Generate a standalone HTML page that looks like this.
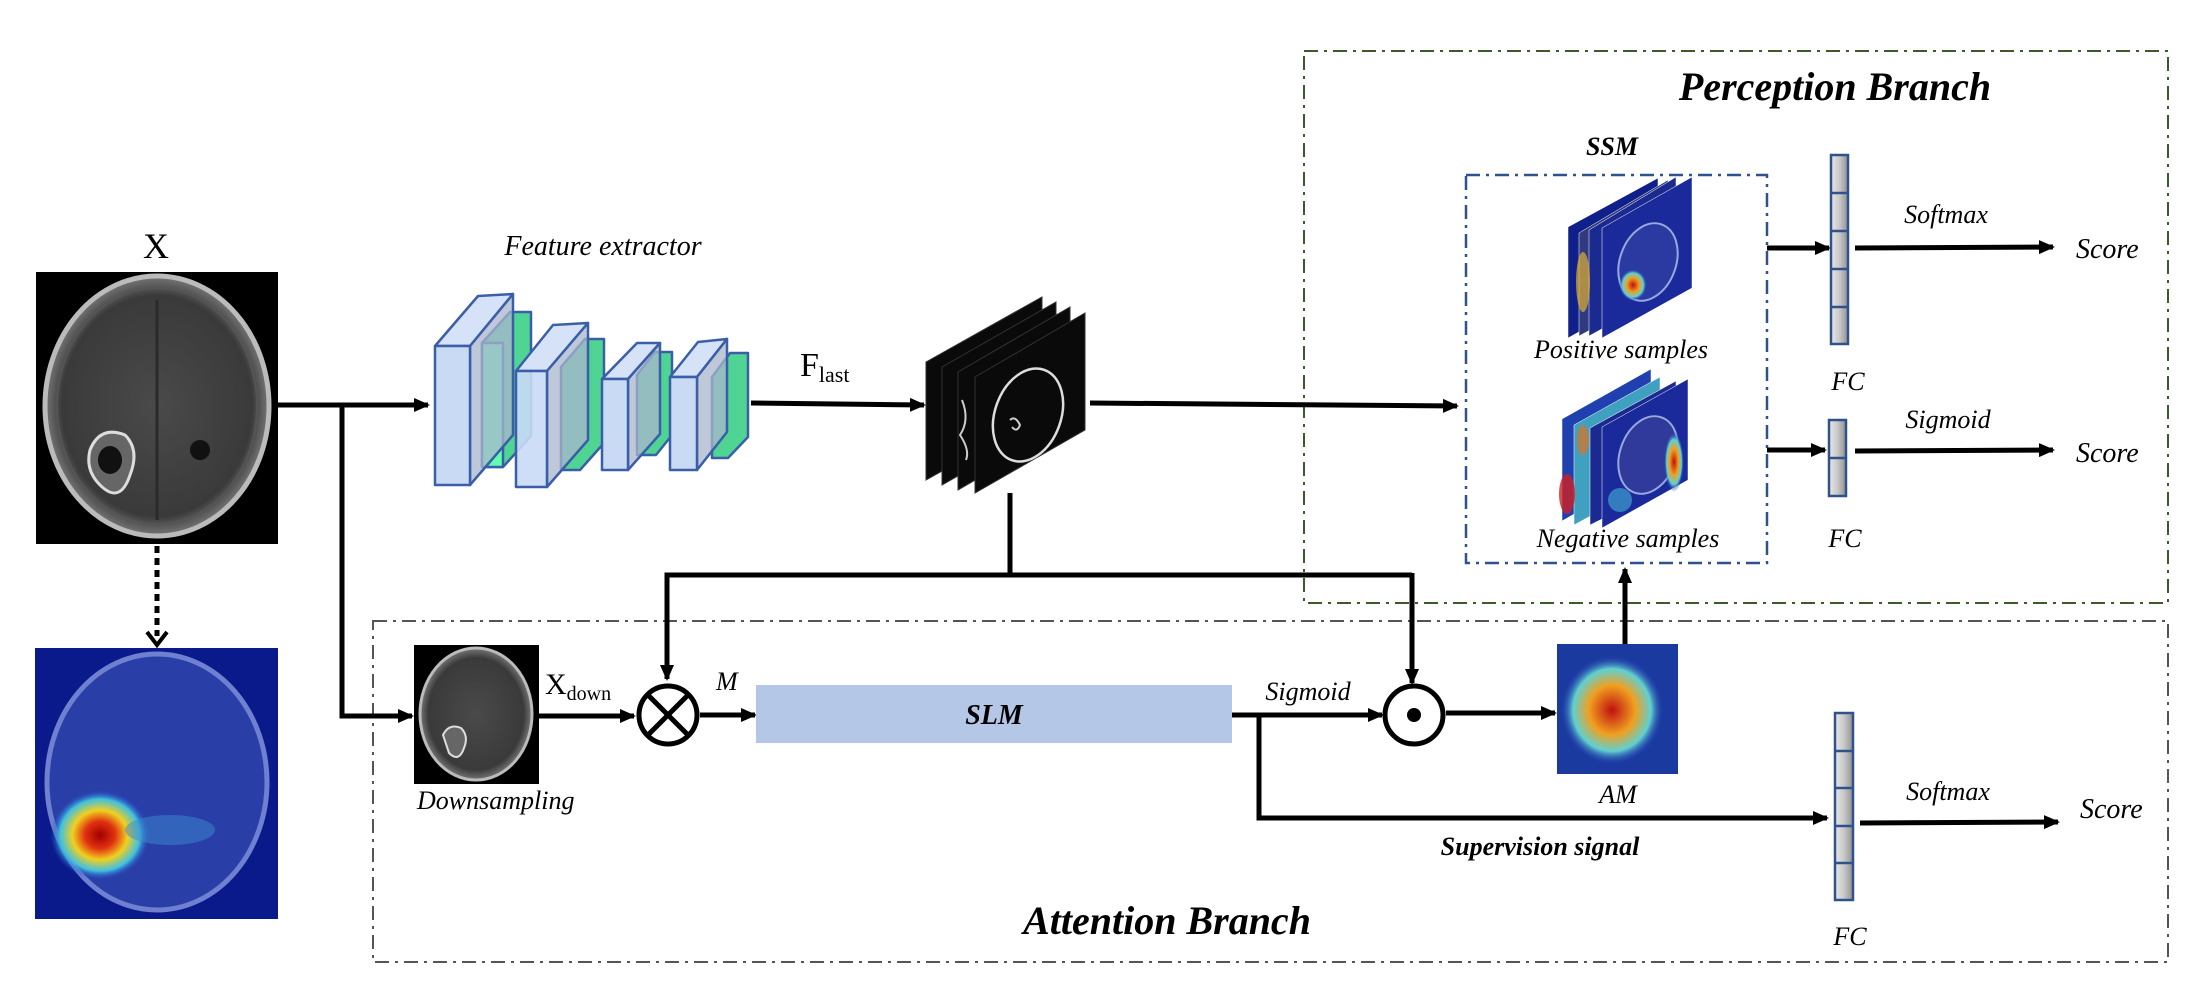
<!DOCTYPE html>
<html><head><meta charset="utf-8"><style>
html,body{margin:0;padding:0;background:#fff;}
svg{display:block;}
text{font-family:"Liberation Serif",serif;}
.i{font-style:italic;}
.bi{font-style:italic;font-weight:bold;}
</style></head><body>
<svg width="2205" height="998" viewBox="0 0 2205 998" xmlns="http://www.w3.org/2000/svg">
<defs>
<marker id="a2" markerWidth="16" markerHeight="16" refX="14" refY="8" orient="auto" markerUnits="userSpaceOnUse" viewBox="0 0 16 16">
<path d="M0,1 L16,8 L0,15 z" fill="#000"/></marker>
<radialGradient id="hot" cx="0.5" cy="0.5" r="0.5">
<stop offset="0" stop-color="#a00000"/><stop offset="0.3" stop-color="#e03010"/><stop offset="0.55" stop-color="#f0d020"/><stop offset="0.8" stop-color="#40c0e0"/><stop offset="1" stop-color="#2040c0" stop-opacity="0"/></radialGradient>
<radialGradient id="hot2" cx="0.5" cy="0.5" r="0.5">
<stop offset="0" stop-color="#c01010"/><stop offset="0.45" stop-color="#f0a020"/><stop offset="0.75" stop-color="#60d0d0"/><stop offset="1" stop-color="#2030b0" stop-opacity="0"/></radialGradient>
<radialGradient id="brain" cx="0.5" cy="0.5" r="0.5">
<stop offset="0" stop-color="#4a4a4a"/><stop offset="0.85" stop-color="#3a3a3a"/><stop offset="1" stop-color="#777"/></radialGradient>
<linearGradient id="fcg" x1="0" x2="1"><stop offset="0" stop-color="#e8e8e8"/><stop offset="0.5" stop-color="#c8c8c8"/><stop offset="1" stop-color="#909090"/></linearGradient>
</defs>

<rect x="1304" y="51" width="864" height="552" fill="none" stroke="#3d5a2a" stroke-width="2" stroke-dasharray="14,6,3,6"/>
<rect x="373" y="621" width="1795" height="341" fill="none" stroke="#555" stroke-width="2" stroke-dasharray="14,6,3,6"/>
<rect x="1466" y="175" width="301" height="388" fill="none" stroke="#2f528f" stroke-width="2.5" stroke-dasharray="14,6,3,6"/>

<text x="156" y="258" font-size="36" text-anchor="middle">X</text>
<rect x="36" y="272" width="242" height="272" fill="#000"/>
<ellipse cx="157" cy="406" rx="112" ry="130" fill="url(#brain)" stroke="#bbb" stroke-width="5"/>
<ellipse cx="157" cy="406" rx="100" ry="118" fill="none" stroke="#555" stroke-width="2"/>
<path d="M157,300 L157,520" stroke="#2a2a2a" stroke-width="3"/>
<path d="M90,450 q10,-25 35,-15 q15,15 5,40 q-10,30 -30,10 q-15,-15 -10,-35z" fill="#666" stroke="#ddd" stroke-width="3"/>
<ellipse cx="110" cy="460" rx="12" ry="14" fill="#111"/>
<ellipse cx="200" cy="450" rx="10" ry="10" fill="#111"/>

<line x1="157" y1="546" x2="157" y2="636" stroke="#000" stroke-width="5" stroke-dasharray="7,5"/>
<path d="M147,632 L157,645 L167,632" fill="none" stroke="#000" stroke-width="4"/>

<rect x="35" y="648" width="243" height="271" fill="#0a1a8a"/>
<ellipse cx="157" cy="782" rx="110" ry="128" fill="#2a3ea8" stroke="#7080d0" stroke-width="5"/>
<ellipse cx="100" cy="835" rx="50" ry="45" fill="url(#hot)"/>
<ellipse cx="170" cy="830" rx="45" ry="15" fill="#3a8ad0" opacity="0.5"/>

<line x1="278" y1="405" x2="428" y2="405" stroke="#000" stroke-width="5" marker-end="url(#a2)"/>
<polyline points="342,405 342,716 412,716" fill="none" stroke="#000" stroke-width="5" marker-end="url(#a2)"/>

<text x="603" y="255" font-size="28" class="i" text-anchor="middle">Feature extractor</text>

<g stroke="#3a5fa8" stroke-width="2.5" stroke-linejoin="round">
 <path d="M482,343 L510,312 L531,312 L531,436 L503,467 L482,467z" fill="#4fd494"/>
 <path d="M482,343 L503,343 L503,467 L482,467z" fill="#60ffb0"/>
 <path d="M435,346 L478,296 L513,294 L470,346z" fill="#d6e2f8"/>
 <path d="M470,346 L513,294 L513,435 L470,485z" fill="#a9b6cc" fill-opacity="0.75"/>
 <rect x="435" y="346" width="35" height="139" fill="#c9daf5"/>
 <path d="M561,367 L585,339 L604,339 L604,443 L580,470 L561,470z" fill="#4fd494"/>
 <path d="M516,371 L553,325 L588,323 L547,371z" fill="#d6e2f8"/>
 <path d="M547,371 L588,323 L588,440 L547,487z" fill="#a9b6cc" fill-opacity="0.75"/>
 <rect x="516" y="371" width="31" height="116" fill="#c9daf5" fill-opacity="0.9"/>
 <path d="M637,375 L655,352 L672,352 L672,435 L656,455 L637,455z" fill="#4fd494"/>
 <path d="M602,379 L637,343 L660,343 L628,379z" fill="#d6e2f8"/>
 <path d="M628,379 L660,343 L660,434 L628,470z" fill="#a9b6cc" fill-opacity="0.75"/>
 <rect x="602" y="379" width="26" height="91" fill="#c9daf5"/>
 <path d="M712,377 L730,353 L748,353 L748,437 L728,458 L712,458z" fill="#4fd494"/>
 <path d="M670,377 L698,342 L727,339 L697,377z" fill="#d6e2f8"/>
 <path d="M697,377 L727,339 L727,432 L697,470z" fill="#a9b6cc" fill-opacity="0.75"/>
 <rect x="670" y="377" width="27" height="93" fill="#c9daf5"/>
</g>

<text x="800" y="376" font-size="34">F<tspan font-size="22" dy="6">last</tspan></text>
<line x1="751" y1="403" x2="924" y2="405" stroke="#000" stroke-width="5" marker-end="url(#a2)"/>

<g fill="#0a0a0a" stroke="#333" stroke-width="1">
 <path d="M926,362 L1042,297 L1042,415 L926,480z"/>
 <path d="M942,367 L1056,302 L1056,420 L942,485z"/>
 <path d="M958,372 L1070,307 L1070,425 L958,490z"/>
 <path d="M975,377 L1085,313 L1085,430 L975,493z"/>
</g>
<ellipse cx="1028" cy="415" rx="33" ry="48" transform="rotate(20 1028 415)" fill="none" stroke="#ddd" stroke-width="2.5"/>
<path d="M962,400 q8,20 -2,35 q10,15 6,25" fill="none" stroke="#ccc" stroke-width="2"/>
<path d="M1010,420 q5,-5 10,5 q-3,8 -8,2" fill="none" stroke="#ccc" stroke-width="2"/>

<line x1="1090" y1="403" x2="1457" y2="406" stroke="#000" stroke-width="5" marker-end="url(#a2)"/>
<polyline points="1010,493 1010,575" fill="none" stroke="#000" stroke-width="5"/>
<polyline points="1412,575 667,575 667,679" fill="none" stroke="#000" stroke-width="5" marker-end="url(#a2)"/>
<line x1="1412" y1="573" x2="1412" y2="683" stroke="#000" stroke-width="5" marker-end="url(#a2)"/>

<rect x="414" y="645" width="125" height="139" fill="#000"/>
<ellipse cx="476" cy="714" rx="56" ry="66" fill="url(#brain)" stroke="#bbb" stroke-width="3"/>
<path d="M443,735 q6,-12 18,-7 q8,8 3,20 q-5,15 -15,5z" fill="#666" stroke="#ddd" stroke-width="2"/>
<text x="417" y="809" font-size="26" class="i">Downsampling</text>
<text x="545" y="694" font-size="30">X<tspan font-size="20" dy="6">down</tspan></text>
<line x1="539" y1="716" x2="634" y2="716" stroke="#000" stroke-width="5" marker-end="url(#a2)"/>

<circle cx="668" cy="715" r="29" fill="#fff" stroke="#000" stroke-width="5"/>
<line x1="648" y1="695" x2="688" y2="735" stroke="#000" stroke-width="5"/>
<line x1="688" y1="695" x2="648" y2="735" stroke="#000" stroke-width="5"/>
<text x="716" y="690" font-size="26" class="i">M</text>
<line x1="700" y1="715" x2="755" y2="715" stroke="#000" stroke-width="5" marker-end="url(#a2)"/>

<rect x="756" y="685" width="476" height="58" fill="#b4c7e7"/>
<text x="994" y="724" font-size="28" class="bi" text-anchor="middle">SLM</text>
<line x1="1232" y1="715" x2="1382" y2="715" stroke="#000" stroke-width="5" marker-end="url(#a2)"/>
<text x="1308" y="700" font-size="26" class="i" text-anchor="middle">Sigmoid</text>
<polyline points="1259,715 1259,818 1827,818" fill="none" stroke="#000" stroke-width="5" marker-end="url(#a2)"/>
<text x="1540" y="855" font-size="26" class="bi" text-anchor="middle">Supervision signal</text>

<circle cx="1414" cy="715" r="29" fill="#fff" stroke="#000" stroke-width="5"/>
<circle cx="1414" cy="715" r="7" fill="#000"/>
<line x1="1446" y1="713" x2="1555" y2="713" stroke="#000" stroke-width="5" marker-end="url(#a2)"/>

<rect x="1557" y="644" width="121" height="130" fill="#1a3aa0"/>
<ellipse cx="1612" cy="710" rx="52" ry="55" fill="url(#hot2)"/>
<text x="1618" y="803" font-size="26" class="i" text-anchor="middle">AM</text>
<line x1="1625" y1="644" x2="1625" y2="569" stroke="#000" stroke-width="5" marker-end="url(#a2)"/>

<text x="1835" y="100" font-size="40" class="bi" text-anchor="middle">Perception Branch</text>
<text x="1167" y="934" font-size="40" class="bi" text-anchor="middle">Attention Branch</text>
<text x="1612" y="155" font-size="26" class="bi" text-anchor="middle">SSM</text>

<g stroke="#fff" stroke-width="0.5">
 <path d="M1568,227 L1658,178 L1658,288 L1568,338z" fill="#10208a"/>
 <path d="M1579,233 L1668,180 L1668,288 L1579,336z" fill="#303a80"/>
 <path d="M1589,230 L1676,177 L1676,288 L1589,336z" fill="#1a2a90"/>
 <path d="M1602,228 L1692,177 L1692,288 L1602,338z" fill="#1a2a9a"/>
</g>
<ellipse cx="1648" cy="262" rx="28" ry="40" transform="rotate(20 1648 262)" fill="#2a3aa0" stroke="#9aa8e0" stroke-width="2"/>
<ellipse cx="1633" cy="285" rx="14" ry="16" fill="url(#hot2)"/>
<ellipse cx="1583" cy="282" rx="7" ry="30" fill="#e0b030" opacity="0.7"/>
<text x="1621" y="358" font-size="26" class="i" text-anchor="middle">Positive samples</text>

<g stroke="#fff" stroke-width="0.5">
 <path d="M1562,419 L1651,369 L1651,470 L1562,521z" fill="#2040b0"/>
 <path d="M1574,425 L1660,377 L1660,478 L1574,525z" fill="#40a0c0"/>
 <path d="M1590,428 L1676,381 L1676,482 L1590,525z" fill="#1a2a90"/>
 <path d="M1602,427 L1688,379 L1688,480 L1602,528z" fill="#1a2a9a"/>
</g>
<ellipse cx="1567" cy="494" rx="8" ry="20" fill="#d02020" opacity="0.8"/>
<ellipse cx="1583" cy="440" rx="6" ry="15" fill="#e07020" opacity="0.7"/>
<ellipse cx="1648" cy="455" rx="28" ry="40" transform="rotate(20 1648 455)" fill="#303a9a" stroke="#9aa8e0" stroke-width="2"/>
<ellipse cx="1674" cy="462" rx="10" ry="30" fill="url(#hot2)"/>
<ellipse cx="1620" cy="500" rx="12" ry="12" fill="#40a0d0" opacity="0.7"/>
<text x="1628" y="547" font-size="26" class="i" text-anchor="middle">Negative samples</text>

<line x1="1767" y1="248" x2="1829" y2="248" stroke="#000" stroke-width="5" marker-end="url(#a2)"/>
<g stroke="#2f528f" stroke-width="2.5">
 <rect x="1831" y="155" width="17" height="189" fill="url(#fcg)"/>
 <line x1="1831" y1="193" x2="1848" y2="193"/><line x1="1831" y1="231" x2="1848" y2="231"/>
 <line x1="1831" y1="269" x2="1848" y2="269"/><line x1="1831" y1="307" x2="1848" y2="307"/>
</g>
<text x="1848" y="390" font-size="26" class="i" text-anchor="middle">FC</text>
<line x1="1855" y1="248" x2="2053" y2="247" stroke="#000" stroke-width="5" marker-end="url(#a2)"/>
<text x="1946" y="223" font-size="26" class="i" text-anchor="middle">Softmax</text>
<text x="2076" y="258" font-size="28" class="i">Score</text>

<line x1="1767" y1="450" x2="1825" y2="450" stroke="#000" stroke-width="5" marker-end="url(#a2)"/>
<g stroke="#2f528f" stroke-width="2.5">
 <rect x="1829" y="420" width="17" height="76" fill="url(#fcg)"/>
 <line x1="1829" y1="458" x2="1846" y2="458"/>
</g>
<text x="1845" y="547" font-size="26" class="i" text-anchor="middle">FC</text>
<line x1="1855" y1="451" x2="2053" y2="450" stroke="#000" stroke-width="5" marker-end="url(#a2)"/>
<text x="1948" y="428" font-size="26" class="i" text-anchor="middle">Sigmoid</text>
<text x="2076" y="462" font-size="28" class="i">Score</text>

<g stroke="#2f528f" stroke-width="2.5">
 <rect x="1835" y="713" width="18" height="187" fill="url(#fcg)"/>
 <line x1="1835" y1="751" x2="1853" y2="751"/><line x1="1835" y1="788" x2="1853" y2="788"/>
 <line x1="1835" y1="826" x2="1853" y2="826"/><line x1="1835" y1="863" x2="1853" y2="863"/>
</g>
<text x="1850" y="945" font-size="26" class="i" text-anchor="middle">FC</text>
<line x1="1860" y1="823" x2="2058" y2="822" stroke="#000" stroke-width="5" marker-end="url(#a2)"/>
<text x="1948" y="800" font-size="26" class="i" text-anchor="middle">Softmax</text>
<text x="2080" y="818" font-size="28" class="i">Score</text>
</svg>
</body></html>
